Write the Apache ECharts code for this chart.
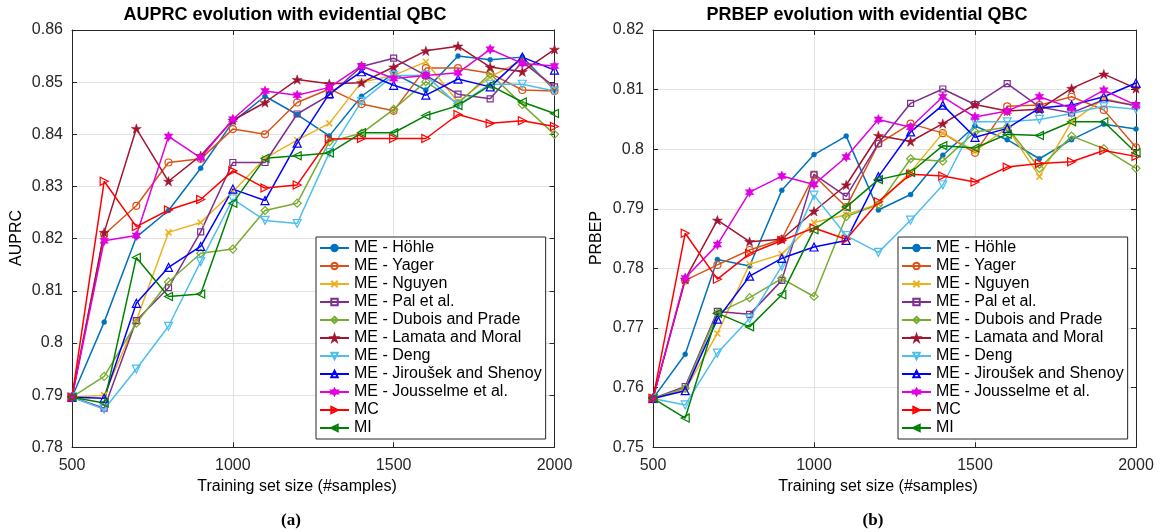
<!DOCTYPE html>
<html>
<head>
<meta charset="utf-8">
<script src="https://cdn.jsdelivr.net/npm/echarts@6/dist/echarts.min.js"></script>
<style>
  html, body { margin: 0; padding: 0; background: #fff; }
  #chart { width: 1163px; height: 532px; }
</style>
</head>
<body>
<div id="chart"></div>
<script>
// ---------------- DATA ----------------
const sizes = [500, 600, 700, 800, 900, 1000, 1100, 1200, 1300, 1400, 1500, 1600, 1700, 1800, 1900, 2000];

const seriesNames = [
  'ME - Höhle', 'ME - Yager', 'ME - Nguyen', 'ME - Pal et al.', 'ME - Dubois and Prade',
  'ME - Lamata and Moral', 'ME - Deng', 'ME - Jiroušek and Shenoy', 'ME - Jousselme et al.', 'MC', 'MI'
];

// AUPRC (left panel)
const hohleA     = [0.7896, 0.8040, 0.8203, 0.8254, 0.8335, 0.8424, 0.8473, 0.8438, 0.8397, 0.8473, 0.8517, 0.8485, 0.8550, 0.8543, 0.8548, 0.8485];
const yagerA     = [0.7896, 0.8208, 0.8263, 0.8346, 0.8353, 0.8410, 0.8400, 0.8461, 0.8487, 0.8458, 0.8445, 0.8527, 0.8527, 0.8517, 0.8485, 0.8483];
const nguyenA    = [0.7896, 0.7900, 0.8043, 0.8212, 0.8231, 0.8290, 0.8354, 0.8389, 0.8421, 0.8500, 0.8513, 0.8539, 0.8462, 0.8510, 0.8542, 0.8488];
const palA       = [0.7896, 0.7875, 0.8043, 0.8106, 0.8213, 0.8346, 0.8346, 0.8439, 0.8475, 0.8530, 0.8546, 0.8513, 0.8477, 0.8468, 0.8539, 0.8491];
const duboisA    = [0.7896, 0.7936, 0.8038, 0.8117, 0.8172, 0.8180, 0.8254, 0.8268, 0.8386, 0.8402, 0.8448, 0.8501, 0.8459, 0.8516, 0.8457, 0.8400];
const lamataA    = [0.7896, 0.8212, 0.8411, 0.8310, 0.8359, 0.8427, 0.8461, 0.8505, 0.8497, 0.8499, 0.8529, 0.8560, 0.8569, 0.8529, 0.8520, 0.8563];
const dengA      = [0.7896, 0.7873, 0.7950, 0.8032, 0.8156, 0.8276, 0.8235, 0.8229, 0.8365, 0.8463, 0.8513, 0.8513, 0.8456, 0.8496, 0.8496, 0.8483];
const jirousekA  = [0.7896, 0.7894, 0.8076, 0.8145, 0.8185, 0.8295, 0.8273, 0.8383, 0.8478, 0.8520, 0.8494, 0.8475, 0.8506, 0.8491, 0.8548, 0.8523];
const jousselmeA = [0.7896, 0.8196, 0.8206, 0.8396, 0.8355, 0.8429, 0.8483, 0.8475, 0.8490, 0.8531, 0.8507, 0.8513, 0.8518, 0.8563, 0.8536, 0.8531];
const mcA        = [0.7896, 0.8310, 0.8223, 0.8255, 0.8275, 0.8330, 0.8297, 0.8303, 0.8391, 0.8392, 0.8392, 0.8392, 0.8438, 0.8421, 0.8426, 0.8415];
const miA        = [0.7896, 0.7885, 0.8164, 0.8089, 0.8094, 0.8268, 0.8354, 0.8359, 0.8364, 0.8403, 0.8403, 0.8436, 0.8455, 0.8494, 0.8462, 0.8440];

// PRBEP (right panel)
const hohleP     = [0.7582, 0.7656, 0.7815, 0.7804, 0.7931, 0.7991, 0.8022, 0.7898, 0.7924, 0.7990, 0.8039, 0.8016, 0.7984, 0.8016, 0.8042, 0.8034];
const yagerP     = [0.7582, 0.7780, 0.7806, 0.7831, 0.7849, 0.7956, 0.7903, 0.8009, 0.8043, 0.8027, 0.7994, 0.8072, 0.8074, 0.8088, 0.8066, 0.8003];
const nguyenP    = [0.7582, 0.7596, 0.7691, 0.7807, 0.7824, 0.7877, 0.7890, 0.7908, 0.7962, 0.8027, 0.7997, 0.8036, 0.7954, 0.8046, 0.8085, 0.8073];
const palP       = [0.7582, 0.7602, 0.7728, 0.7723, 0.7780, 0.7958, 0.7921, 0.8010, 0.8077, 0.8101, 0.8075, 0.8110, 0.8071, 0.8061, 0.8083, 0.8073];
const duboisP    = [0.7582, 0.7599, 0.7725, 0.7751, 0.7783, 0.7753, 0.7887, 0.7907, 0.7984, 0.7980, 0.8029, 0.8037, 0.7968, 0.8022, 0.8001, 0.7968];
const lamataP    = [0.7582, 0.7782, 0.7881, 0.7845, 0.7849, 0.7896, 0.7940, 0.8023, 0.8013, 0.8043, 0.8075, 0.8064, 0.8067, 0.8102, 0.8126, 0.8102];
const dengP      = [0.7582, 0.7571, 0.7658, 0.7716, 0.7804, 0.7923, 0.7855, 0.7827, 0.7881, 0.7940, 0.8046, 0.8046, 0.8050, 0.8060, 0.8072, 0.8067];
const jirousekP  = [0.7582, 0.7595, 0.7715, 0.7787, 0.7817, 0.7836, 0.7847, 0.7954, 0.8029, 0.8074, 0.8020, 0.8035, 0.8069, 0.8074, 0.8088, 0.8111];
const jousselmeP = [0.7582, 0.7784, 0.7840, 0.7928, 0.7955, 0.7941, 0.7987, 0.8050, 0.8037, 0.8088, 0.8054, 0.8064, 0.8088, 0.8069, 0.8099, 0.8074];
const mcP        = [0.7582, 0.7859, 0.7782, 0.7825, 0.7847, 0.7868, 0.7849, 0.7912, 0.7958, 0.7955, 0.7945, 0.7970, 0.7976, 0.7979, 0.7998, 0.7988];
const miP        = [0.7582, 0.7549, 0.7725, 0.7702, 0.7756, 0.7865, 0.7903, 0.7949, 0.7961, 0.8006, 0.8002, 0.8025, 0.8023, 0.8046, 0.8046, 0.7994];

const xTicks = [500, 1000, 1500, 2000];
const yTicksA = [0.78, 0.79, 0.80, 0.81, 0.82, 0.83, 0.84, 0.85, 0.86];
const yTicksP = [0.75, 0.76, 0.77, 0.78, 0.79, 0.80, 0.81, 0.82];

const titleA = 'AUPRC evolution with evidential QBC';
const titleP = 'PRBEP evolution with evidential QBC';
const yNameA = 'AUPRC';
const yNameP = 'PRBEP';
const xName = 'Training set size (#samples)';
const captions = ['(a)', '(b)'];

// ---------------- STYLE ----------------
const colors = ['#0072BD', '#D95319', '#EDB120', '#7E2F8E', '#77AC30', '#A2142F', '#4DBEEE', '#0000FF', '#E000E0', '#FF0000', '#008000'];
const STAR = 'path://M50,0 L61.8,35.3 L98.9,35.3 L68.9,57.1 L80.3,92.7 L50,70.7 L19.7,92.7 L31.1,57.1 L1.1,35.3 L38.2,35.3 Z';
const HEX = 'path://M50,0 L62.5,25 L93.3,25 L75,50 L93.3,75 L62.5,75 L50,100 L37.5,75 L6.7,75 L25,50 L6.7,25 L37.5,25 Z';
const XMARK = 'path://M0,0 L10,10 M10,0 L0,10';
const markers = [
  { symbol: 'circle', size: 5, rotate: 0, filled: true },
  { symbol: 'circle', size: 7, rotate: 0, filled: false },
  { symbol: XMARK, size: 6, rotate: 0, filled: false, cross: true },
  { symbol: 'rect', size: 6, rotate: 0, filled: false },
  { symbol: 'diamond', size: 8, rotate: 0, filled: false },
  { symbol: STAR, size: 10, rotate: 0, filled: true },
  { symbol: 'triangle', size: 8, rotate: 180, filled: false },
  { symbol: 'triangle', size: 8, rotate: 0, filled: false },
  { symbol: HEX, size: 10, rotate: 0, filled: true },
  { symbol: 'triangle', size: 8, rotate: -90, filled: false },
  { symbol: 'triangle', size: 8, rotate: 90, filled: false }
];

const FONT = 'Liberation Sans, Arial, Helvetica, sans-serif';
const AXC = '#262626';

const valuesA = [hohleA, yagerA, nguyenA, palA, duboisA, lamataA, dengA, jirousekA, jousselmeA, mcA, miA];
const valuesP = [hohleP, yagerP, nguyenP, palP, duboisP, lamataP, dengP, jirousekP, jousselmeP, mcP, miP];

function makeSeries(values, xIdx, yIdx) {
  return values.map((vals, i) => {
    const m = markers[i];
    const c = colors[i];
    return {
      name: seriesNames[i],
      type: 'line',
      xAxisIndex: xIdx,
      yAxisIndex: yIdx,
      data: sizes.map((x, k) => [x, vals[k]]),
      symbol: m.symbol,
      symbolSize: m.size,
      symbolRotate: m.rotate,
      symbolKeepAspect: true,
      showSymbol: true,
      showAllSymbol: true,
      color: c,
      lineStyle: { color: c, width: 1.5 },
      itemStyle: {
        color: m.filled ? c : 'rgba(255,255,255,0)',
        borderColor: c,
        borderWidth: m.filled ? 0.5 : (m.cross ? 1.5 : 1.2)
      },
      emphasis: { disabled: true },
      animation: false
    };
  });
}

const fmtY = v => String(Number(v.toFixed(2)));
const fmtX = v => String(Math.round(v));

function xAxes(gridIndex) {
  const base = {
    type: 'value', gridIndex: gridIndex, min: xTicks[0], max: xTicks[xTicks.length - 1], interval: 500,
    axisLine: { show: true, onZero: false, lineStyle: { color: AXC, width: 1 } },
    axisTick: { show: true, inside: true, length: 5, lineStyle: { color: AXC } }
  };
  return [
    Object.assign({}, base, {
      position: 'bottom',
      axisLabel: { show: true, margin: 10, fontSize: 16, fontFamily: FONT, color: AXC, formatter: fmtX },
      splitLine: { show: true, lineStyle: { color: '#e3e3e3', width: 1 } }
    }),
    Object.assign({}, base, {
      position: 'top',
      axisLabel: { show: false },
      splitLine: { show: false }
    })
  ];
}

function yAxes(gridIndex, min, max) {
  const base = {
    type: 'value', gridIndex: gridIndex, min: min, max: max, interval: 0.01,
    axisLine: { show: true, onZero: false, lineStyle: { color: AXC, width: 1 } },
    axisTick: { show: true, inside: true, length: 5, lineStyle: { color: AXC } }
  };
  return [
    Object.assign({}, base, {
      position: 'left',
      axisLabel: { show: true, margin: 9, fontSize: 16, fontFamily: FONT, color: AXC, formatter: fmtY },
      splitLine: { show: true, lineStyle: { color: '#e3e3e3', width: 1 } }
    }),
    Object.assign({}, base, {
      position: 'right',
      axisLabel: { show: false },
      splitLine: { show: false }
    })
  ];
}

function legend(left) {
  return {
    show: true,
    orient: 'vertical',
    left: left, top: 237,
    data: seriesNames,
    itemWidth: 29, itemHeight: 8, itemGap: 0,
    padding: [2, 4, 2, 3],
    backgroundColor: '#ffffff',
    borderColor: AXC, borderWidth: 1,
    textStyle: { fontSize: 16, lineHeight: 18, fontFamily: FONT, color: '#000' },
    selectedMode: false,
    z: 20
  };
}

function txt(text, x, y, font, rot) {
  return {
    type: 'text', x: x, y: y, rotation: rot || 0, z: 30,
    style: { text: text, font: font, fill: '#000', align: 'center', verticalAlign: 'middle',
             textAlign: 'center', textVerticalAlign: 'middle' }
  };
}

const chart = echarts.init(document.getElementById('chart'), null, { renderer: 'canvas' });
chart.setOption({
  backgroundColor: '#ffffff',
  animation: false,
  grid: [
    { left: 72, top: 30, width: 482.5, height: 417.3, containLabel: false },
    { left: 653, top: 30, width: 483, height: 417.3, containLabel: false }
  ],
  xAxis: xAxes(0).concat(xAxes(1)),
  yAxis: yAxes(0, yTicksA[0], yTicksA[yTicksA.length - 1]).concat(yAxes(1, yTicksP[0], yTicksP[yTicksP.length - 1])),
  legend: [legend(316), legend(898)],
  series: makeSeries(valuesA, 0, 0).concat(makeSeries(valuesP, 2, 2)),
  graphic: [
    txt(titleA, 285, 15, 'bold 18px ' + FONT),
    txt(titleP, 867, 15, 'bold 18px ' + FONT),
    txt(xName, 297, 487, '16px ' + FONT),
    txt(xName, 878, 487, '16px ' + FONT),
    txt(yNameA, 17, 238, '16px ' + FONT, Math.PI / 2),
    txt(yNameP, 597, 238, '16px ' + FONT, Math.PI / 2),
    txt(captions[0], 291, 521, 'bold 17px Liberation Serif, DejaVu Serif, serif'),
    txt(captions[1], 873, 521, 'bold 17px Liberation Serif, DejaVu Serif, serif')
  ]
});
</script>
</body>
</html>
